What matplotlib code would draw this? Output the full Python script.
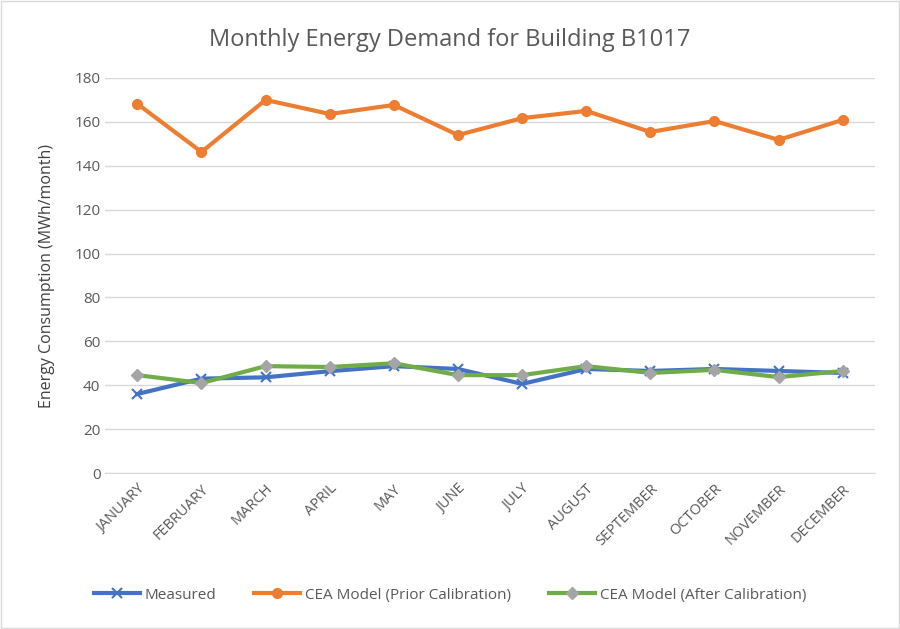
import matplotlib.pyplot as plt
import numpy as np

months = ["JANUARY", "FEBRUARY", "MARCH", "APRIL", "MAY", "JUNE", "JULY",
          "AUGUST", "SEPTEMBER", "OCTOBER", "NOVEMBER", "DECEMBER"]
measured = [36.0, 43.0, 43.6, 46.4, 48.7, 47.4, 40.6, 47.4, 46.5, 47.4, 46.5, 45.6]
prior = [168.2, 146.3, 170.0, 163.6, 167.7, 154.0, 161.7, 165.0, 155.4, 160.4, 151.8, 160.9]
after = [44.6, 41.0, 48.7, 48.3, 50.0, 44.6, 44.6, 48.7, 45.6, 47.0, 43.7, 46.5]

plt.rcParams['font.family'] = ['Open Sans', 'DejaVu Sans']
fig = plt.figure(figsize=(9, 6.29), dpi=100)
ax = fig.add_axes([0.117, 0.248, 0.855, 0.628])
x = np.arange(len(months))

ax.plot(x, measured, color='#4472C4', lw=3, marker='x', ms=7, mew=1.5, label='Measured', zorder=3)
ax.plot(x, prior, color='#ED7D31', lw=3, marker='o', ms=7, label='CEA Model (Prior Calibration)', zorder=3)
ax.plot(x, after, color='#70AD47', lw=3, marker='D', ms=6, mfc='#A5A5A5', mec='#A5A5A5',
        label='CEA Model (After Calibration)', zorder=4)

ax.set_xlim(-0.5, 11.5)
ax.set_ylim(0, 180)
ax.set_yticks(range(0, 181, 20))
ax.set_xticks(x)
ax.set_xticklabels(months, rotation=45, ha='right', rotation_mode='anchor', fontsize=10.5, color='#595959')
ax.tick_params(axis='y', labelsize=11, labelcolor='#595959', length=0)
ax.tick_params(axis='x', length=0, pad=6)
ax.grid(axis='y', color='#D9D9D9', lw=1)
for s in ['top', 'right', 'left']:
    ax.spines[s].set_visible(False)
ax.spines['bottom'].set_color('#D9D9D9')
ax.set_axisbelow(True)
ax.set_ylabel('Energy Consumption (MWh/month)', fontsize=11.5, color='#404040', labelpad=14)
fig.suptitle('Monthly Energy Demand for Building B1017', y=0.955, fontsize=17, color='#595959')
fig.legend(loc='lower center', bbox_to_anchor=(0.5, 0.02), ncol=3, frameon=False,
           fontsize=11, labelcolor='#595959', handlelength=3, handletextpad=0.3, columnspacing=2.5)
fig.patches.append(plt.Rectangle((0.001, 0.001), 0.998, 0.998, transform=fig.transFigure,
                                 fill=False, ec='#D9D9D9', lw=1))
fig.savefig('out.png', dpi=100, facecolor='white')
